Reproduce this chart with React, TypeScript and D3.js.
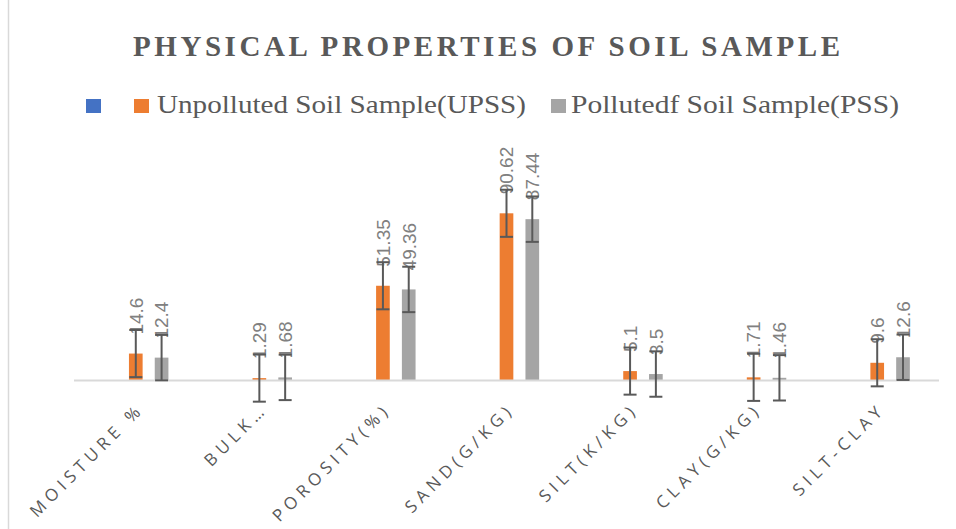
import React from "react";
import * as d3 from "d3";

const categories = ["MOISTURE %", "BULK…", "POROSITY(%)", "SAND(G/KG)", "SILT(K/KG)", "CLAY(G/KG)", "SILT-CLAY"];
const seriesNames = ["", "Unpolluted Soil Sample(UPSS)", "Pollutedf Soil Sample(PSS)"];
const upssValues = [14.6, 1.29, 51.35, 90.62, 5.1, 1.71, 9.6];
const pssValues = [12.4, 1.68, 49.36, 87.44, 3.5, 1.46, 12.6];
const seriesColors = ["#4472C4", "#ED7D31", "#A5A5A5"];
const titleText = "PHYSICAL PROPERTIES OF SOIL SAMPLE";

// Excel "Standard Error" error bars: sample sd / sqrt(n), one value per series
const stdErr = (vals: number[]) => (d3.deviation(vals) as number) / Math.sqrt(vals.length);

const W = 956;
const H = 529;

export default function App() {
  const x = d3.scaleBand<string>().domain(categories).range([74, 939]);
  const xs = d3
    .scaleBand<string>()
    .domain(["s0", "s1", "s2"])
    .range([-38.7, 38.7])
    .paddingInner(0.47)
    .paddingOuter(0.235);
  const y = d3.scaleLinear().domain([0, 100]).range([380.5, 196]);

  const series = [
    { key: "s0", values: [] as number[], color: seriesColors[0] },
    { key: "s1", values: upssValues, color: seriesColors[1] },
    { key: "s2", values: pssValues, color: seriesColors[2] },
  ];

  const bw = xs.bandwidth();

  return (
    <svg
      width={W}
      height={H}
      style={{ position: "absolute", left: 0, top: 0, background: "#fff" }}
    >
      <rect x={0} y={0} width={W} height={H} fill="#fff" />
      <line x1={8.5} x2={8.5} y1={0} y2={H} stroke="#d9d9d9" strokeWidth={1.5} />

      <text
        x={133}
        y={56}
        fontFamily="'Liberation Serif', 'Times New Roman', serif"
        fontWeight="bold"
        fontSize={29}
        fill="#595959"
        textLength={707}
        lengthAdjust="spacing"
      >
        {titleText}
      </text>

      {/* legend */}
      <rect x={86} y={99} width={15} height={14} fill={seriesColors[0]} />
      <rect x={134} y={99} width={15} height={14} fill={seriesColors[1]} />
      <text
        x={157}
        y={113.3}
        fontFamily="'Liberation Serif', 'Times New Roman', serif"
        fontSize={26}
        fill="#595959"
        textLength={369}
        lengthAdjust="spacingAndGlyphs"
      >
        {seriesNames[1]}
      </text>
      <rect x={551} y={99} width={15} height={14} fill={seriesColors[2]} />
      <text
        x={571}
        y={113.3}
        fontFamily="'Liberation Serif', 'Times New Roman', serif"
        fontSize={26}
        fill="#595959"
        textLength={328}
        lengthAdjust="spacingAndGlyphs"
      >
        {seriesNames[2]}
      </text>

      {/* bars */}
      {series.map((s) =>
        s.values.map((v, i) => {
          const cx = (x(categories[i]) as number) + x.bandwidth() / 2;
          const bx = cx + (xs(s.key) as number);
          return (
            <rect
              key={s.key + i}
              x={bx}
              y={y(v)}
              width={bw}
              height={y(0) - y(v)}
              fill={s.color}
            />
          );
        })
      )}

      {/* axis line */}
      <line x1={74} x2={939} y1={380.5} y2={380.5} stroke="#d9d9d9" strokeWidth={2} />

      {/* data labels */}
      {series.map((s) =>
        s.values.map((v, i) => {
          const cx = (x(categories[i]) as number) + x.bandwidth() / 2;
          const mx = cx + (xs(s.key) as number) + bw / 2;
          const ly = y(v) - 19;
          return (
            <text
              key={"l" + s.key + i}
              transform={`translate(${mx},${ly}) rotate(-90)`}
              dy="0.36em"
              fontFamily="'Liberation Sans', Arial, sans-serif"
              fontSize={19}
              fill="#808080"
            >
              {String(v)}
            </text>
          );
        })
      )}

      {/* error bars */}
      {series.map((s) => {
        if (!s.values.length) return null;
        const e = stdErr(s.values);
        return s.values.map((v, i) => {
          const cx = (x(categories[i]) as number) + x.bandwidth() / 2;
          const mx = cx + (xs(s.key) as number) + bw / 2;
          const y1 = y(v + e);
          const y2 = y(v - e);
          return (
            <g key={"e" + s.key + i} stroke="#595959" strokeWidth={2}>
              <line x1={mx} x2={mx} y1={y1} y2={y2} />
              <line x1={mx - 6.5} x2={mx + 6.5} y1={y1} y2={y1} />
              <line x1={mx - 6.5} x2={mx + 6.5} y1={y2} y2={y2} />
            </g>
          );
        });
      })}

      {/* category labels */}
      {categories.map((c) => {
        const cx = (x(c) as number) + x.bandwidth() / 2;
        return (
          <text
            key={"c" + c}
            transform={`translate(${cx + 5},${406}) rotate(-45)`}
            textAnchor="end"
            dy="0.35em"
            fontFamily="'Open Sans', 'Noto Sans', sans-serif"
            fontSize={17}
            letterSpacing={5}
            fill="#595959"
          >
            {c}
          </text>
        );
      })}
    </svg>
  );
}
